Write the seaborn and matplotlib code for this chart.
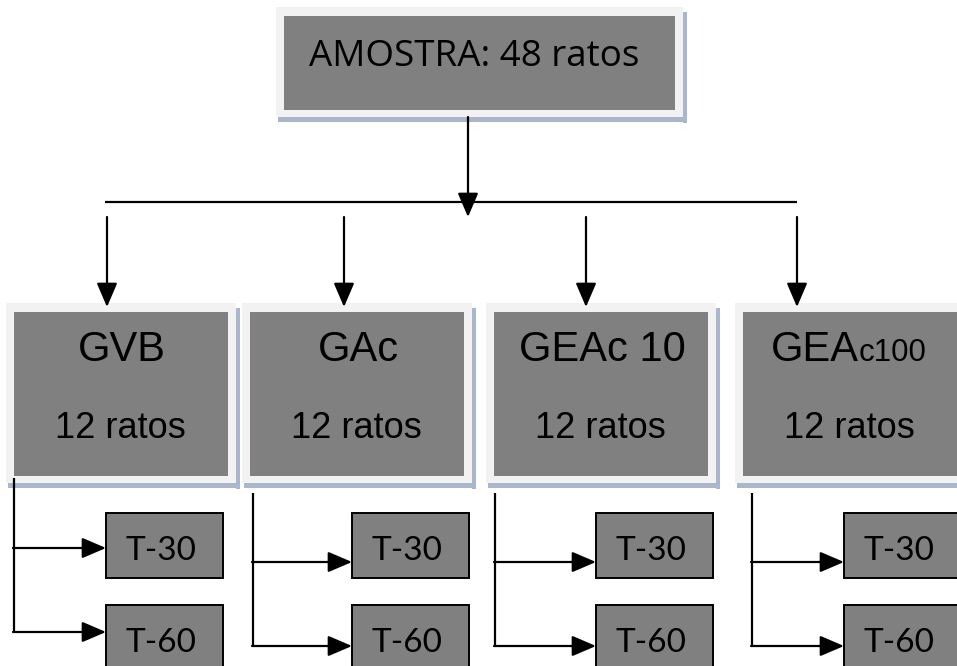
import matplotlib
matplotlib.use("Agg")
import matplotlib.pyplot as plt
from matplotlib.patches import Rectangle, FancyArrowPatch
import seaborn as sns

# ---- data ----
total_label = "AMOSTRA"
total_rats = 48
groups = ["GVB", "GAc", "GEAc 10", "GEAc100"]
group_rats = [12, 12, 12, 12]
times = ["T-30", "T-60"]

# ---- layout (pixels) ----
W, H = 957, 666
group_left = [6, 242, 486, 735]          # outer frame left
group_width = 230
group_arrow_x = [107, 344, 586, 797]
conn_x = [14, 253, 495, 752]
conn_top = [478, 493, 493, 493]
conn_arrow_y = [[548, 632], [562, 646], [562, 646], [562, 646]]
tbox_left = [106, 352, 596, 844]
tbox_w = 117
tbox_y = [(513, 578), (605, 680)]

GRAY = "#808080"
FRAME = "#f2f2f2"
SHADOW = "#a9b6cb"
LW = 1.6

sns.set_theme(style="white")
plt.rcParams["font.family"] = ["Liberation Sans", "DejaVu Sans"]
plt.rcParams["text.color"] = "black"

fig = plt.figure(figsize=(W / 100, H / 100), dpi=100)
ax = fig.add_axes([0, 0, 1, 1])
ax.set_xlim(0, W)
ax.set_ylim(H, 0)
ax.axis("off")


def framed_box(x0, y0, x1, y1, pad=8):
    # shadow
    ax.add_patch(Rectangle((x1, y0 + 5), 4, (y1 - y0) + 1, facecolor=SHADOW,
                           edgecolor="none", zorder=1))
    ax.add_patch(Rectangle((x0 + 2, y1), (x1 - x0) + 2, 5, facecolor=SHADOW,
                           edgecolor="none", zorder=1))
    # light frame
    ax.add_patch(Rectangle((x0, y0), x1 - x0, y1 - y0, facecolor=FRAME,
                           edgecolor="none", zorder=2))
    # gray inner
    ax.add_patch(Rectangle((x0 + pad, y0 + 9), (x1 - x0) - 2 * pad, (y1 - y0) - 16,
                           facecolor=GRAY, edgecolor="none", zorder=3))


def arrow(p0, p1):
    ax.add_patch(FancyArrowPatch(p0, p1, arrowstyle="-|>,head_length=1.05,head_width=0.45",
                                 mutation_scale=14, color="black", lw=LW,
                                 shrinkA=0, shrinkB=0, zorder=5))


def line(xs, ys):
    ax.plot(xs, ys, color="black", lw=LW, solid_capstyle="butt", zorder=5)


# top box
framed_box(276, 7, 683, 117)
ax.text(474, 66, f"{total_label}: {total_rats} ratos", ha="center", va="baseline",
        fontsize=26.5, family=["Open Sans", "DejaVu Sans"], color="black", zorder=6)

# main arrow and distributor line
arrow((468, 117), (468, 217))
line([105, 797], [202, 202])

for i, g in enumerate(groups):
    x0 = group_left[i]
    x1 = x0 + group_width
    framed_box(x0, 303, x1, 483)
    cx = (x0 + x1) / 2 + 1
    arrow((group_arrow_x[i], 217), (group_arrow_x[i], 307))
    if g == "GEAc100":
        ax.text(cx + 8, 361, "GEA", ha="right", va="baseline", fontsize=30, zorder=6)
        ax.text(cx + 8, 361, "c100", ha="left", va="baseline", fontsize=22.5, zorder=6)
    else:
        ax.text(cx, 361, g, ha="center", va="baseline", fontsize=30, zorder=6)
    ax.text(cx - 2, 438, f"{group_rats[i]} ratos", ha="center", va="baseline",
            fontsize=26, zorder=6)

    # connector and time boxes
    line([conn_x[i], conn_x[i]], [conn_top[i], conn_arrow_y[i][1]])
    for j, t in enumerate(times):
        ya = conn_arrow_y[i][j]
        arrow((conn_x[i] - 1, ya), (tbox_left[i], ya))
        ty0, ty1 = tbox_y[j]
        ax.add_patch(Rectangle((tbox_left[i], ty0), tbox_w, ty1 - ty0,
                               facecolor=GRAY, edgecolor="black", lw=1.4, zorder=4))
        ax.text(tbox_left[i] + tbox_w / 2 - 4, ty0 + 47, t,
                ha="center", va="baseline", fontsize=24,
                family=["Lato", "DejaVu Sans"], zorder=6)

fig.savefig("out.png", dpi=100)
